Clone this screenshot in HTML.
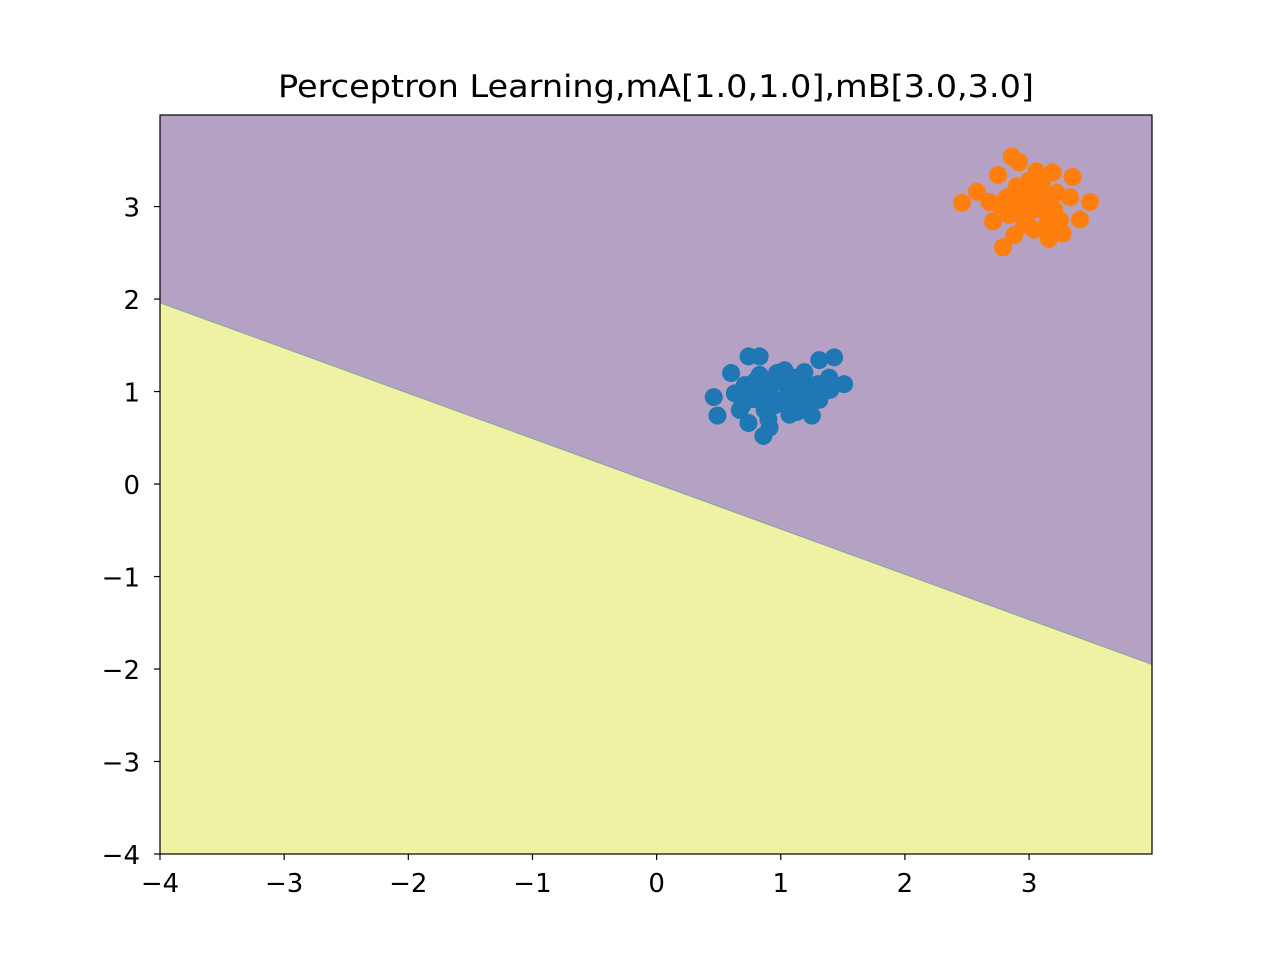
<!DOCTYPE html>
<html><head><meta charset="utf-8"><style>body{margin:0;background:#fff}svg{display:block}</style></head>
<body>
<svg id="chart" width="1280" height="960" xmlns="http://www.w3.org/2000/svg" font-family="'DejaVu Sans','Liberation Sans',sans-serif"></svg>
<script>
const xTicks=[-4,-3,-2,-1,0,1,2,3];
const yTicks=[-4,-3,-2,-1,0,1,2,3];
const boundaryX=[-4,3.99];
const boundaryY=[1.96,-1.95];
const classAX=[0.46,0.49,0.60,0.74,0.83,0.74,0.86,0.91,1.13,1.25,1.31,1.51,1.43,0.69,0.63,0.83,0.99,1.07,1.15,1.27,0.91,1.03,1.19,1.35,0.71,0.95,1.11,1.23,1.39,0.83,0.67,1.07,1.31,0.75,0.87,0.95,1.05,1.15,1.25,0.85,1.00,1.10,1.20,0.80,0.90,1.30,1.40,0.78,1.17,0.97,1.08];
const classAY=[0.94,0.74,1.20,1.38,1.38,0.66,0.52,0.61,0.78,0.74,1.34,1.08,1.37,0.85,0.98,0.91,1.13,0.96,1.13,0.96,1.02,1.23,1.21,1.00,1.07,0.85,0.91,0.85,1.15,1.18,0.80,0.75,0.91,0.96,0.80,1.10,1.05,1.00,1.05,1.05,0.90,1.15,1.10,1.12,0.70,1.08,1.02,0.92,0.95,1.20,0.85];
const classBX=[2.86,2.92,2.75,2.58,2.46,3.35,3.33,3.49,3.41,3.27,3.16,2.79,2.71,3.06,3.19,2.92,3.00,3.08,2.84,2.96,3.12,2.76,3.04,2.88,3.20,2.90,3.00,3.10,2.95,3.05,2.82,3.15,3.25,2.98,3.02,2.85,3.22,2.68];
const classBY=[3.54,3.48,3.34,3.16,3.04,3.32,3.10,3.05,2.86,2.71,2.65,2.56,2.84,3.38,3.37,3.07,3.18,2.97,2.91,2.80,3.13,3.02,2.75,2.69,2.97,3.22,3.28,3.25,2.90,3.05,3.10,2.82,2.85,2.85,3.00,2.98,3.15,3.05];
const X0=160,X1=1152,Y0=115,Y1=854,xmin=-4,xmax=3.99,ymin=-4,ymax=3.99;
const sx=v=>X0+(v-xmin)/(xmax-xmin)*(X1-X0);
const sy=v=>Y1-(v-ymin)/(ymax-ymin)*(Y1-Y0);
const svg=document.getElementById('chart');
const NS='http://www.w3.org/2000/svg';
function mk(t,a,p){const e=document.createElementNS(NS,t);for(const k in a)e.setAttribute(k,a[k]);(p||svg).appendChild(e);return e;}
let e=mk('rect',{x:X0,y:Y0,width:X1-X0,height:Y1-Y0,fill:'#b4a1c3'});


e=mk('polygon',{points:`${sx(boundaryX[0])},${sy(boundaryY[0])} ${sx(boundaryX[1])},${sy(boundaryY[1])} ${X1},${Y1} ${X0},${Y1}`,fill:'#f0f2a3'});


e=mk('line',{x1:sx(boundaryX[0]),y1:sy(boundaryY[0]),x2:sx(boundaryX[1]),y2:sy(boundaryY[1]),stroke:'#7fa8a0','stroke-width':1});


classAX.forEach((v,i)=>{const c=mk('circle',{cx:sx(v),cy:sy(classAY[i]),r:9,fill:'#1f77b4'});

});
classBX.forEach((v,i)=>{const c=mk('circle',{cx:sx(v),cy:sy(classBY[i]),r:9,fill:'#ff7f0e'});

});
e=mk('rect',{x:X0,y:Y0,width:X1-X0,height:Y1-Y0,fill:'none',stroke:'#000','stroke-width':1.2});


const fmt=v=>v<0?'\u2212'+(-v):''+v;
xTicks.forEach(v=>{const x=sx(v);mk('line',{x1:x,y1:Y1,x2:x,y2:Y1+6,stroke:'#000','stroke-width':1.2});
const t=mk('text',{x:x,y:Y1+38,'text-anchor':'middle','font-size':26});t.textContent=fmt(v);

});
yTicks.forEach(v=>{const y=sy(v);mk('line',{x1:X0-6,y1:y,x2:X0,y2:y,stroke:'#000','stroke-width':1.2});
const t=mk('text',{x:X0-20,y:y+10,'text-anchor':'end','font-size':26});t.textContent=fmt(v);

});
e=mk('text',{x:278,y:97,'font-size':31,textLength:756,lengthAdjust:'spacingAndGlyphs'});
e.textContent='Perceptron Learning,mA[1.0,1.0],mB[3.0,3.0]';


</script>
</body></html>
